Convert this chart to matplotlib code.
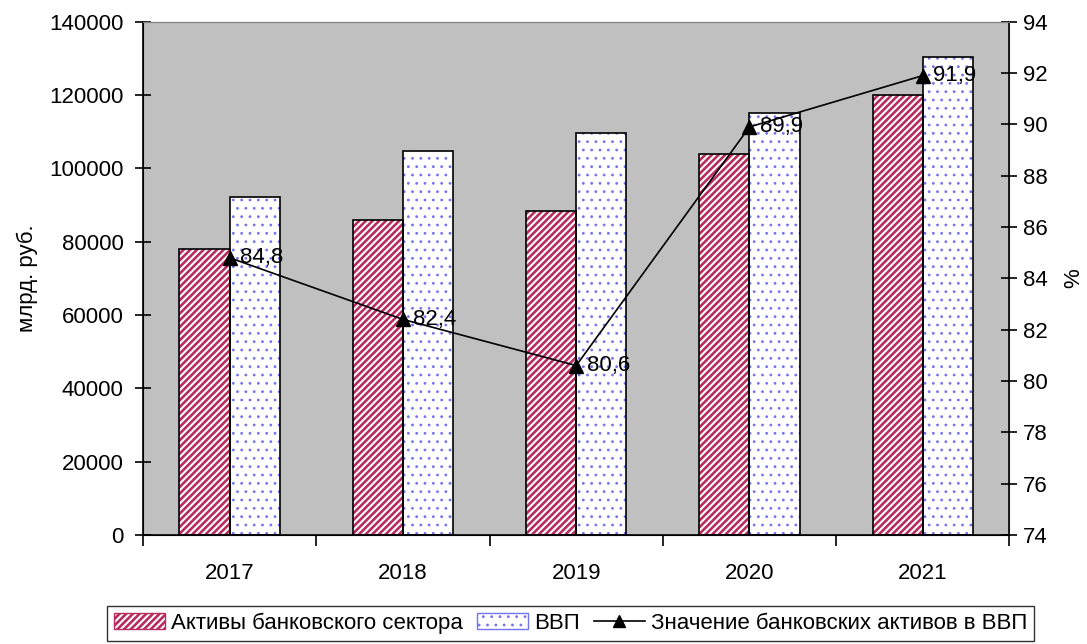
import matplotlib.pyplot as plt
import numpy as np
from matplotlib.patches import Patch
from matplotlib.lines import Line2D

plt.rcParams['font.family'] = ['Liberation Sans', 'DejaVu Sans']

years = ['2017', '2018', '2019', '2020', '2021']
assets = [78000, 86000, 88500, 103800, 120000]
gdp = [92100, 104600, 109600, 115000, 130400]
share = [84.8, 82.4, 80.6, 89.9, 91.9]
share_labels = ['84,8', '82,4', '80,6', '89,9', '91,9']

fs = 16
fig = plt.figure(figsize=(10.87, 6.44), dpi=100)
ax = fig.add_axes([0.1316, 0.1693, 0.797, 0.797])
ax.set_facecolor('#C0C0C0')

x = np.arange(len(years))
w = 0.29
red = '#B82C5E'
blue = '#7474F2'

# hatched fills, then black outlines on top
plt.rcParams['hatch.linewidth'] = 1.9
ax.bar(x - w / 2, assets, w, color='white', edgecolor=red, hatch='/////', linewidth=0, zorder=2)
ax.bar(x - w / 2, assets, w, color='none', edgecolor='black', linewidth=1.2, zorder=3)
plt.rcParams['hatch.linewidth'] = 0.8
ax.bar(x + w / 2, gdp, w, color='white', edgecolor=blue, hatch='..', linewidth=0, zorder=2)
ax.bar(x + w / 2, gdp, w, color='none', edgecolor='black', linewidth=1.2, zorder=3)

ax.set_xlim(-0.5, len(years) - 0.5)
ax.set_ylim(0, 140000)
ax.set_yticks(range(0, 140001, 20000))
ax.set_xticks(x)
ax.set_xticklabels(years)
ax.set_xticks(np.arange(-0.5, len(years), 1), minor=True)
ax.tick_params(axis='x', which='major', length=0, labelsize=fs, pad=20)
ax.tick_params(axis='x', which='minor', length=8, direction='out', width=1.2)
ax.tick_params(axis='y', labelsize=fs, length=12, direction='inout', width=1.2, pad=8)
ax.set_ylabel('млрд. руб.', fontsize=fs)
ax.yaxis.set_label_coords(-0.121, 0.5)

for s in ['top', 'right']:
    ax.spines[s].set_color('#808080')
for s in ['left', 'bottom']:
    ax.spines[s].set_linewidth(1.2)

ax2 = ax.twinx()
ax2.plot(x, share, color='black', marker='^', markersize=10, linewidth=1.2, zorder=5)
for xi, v, t in zip(x, share, share_labels):
    ax2.text(xi + 0.06, v, t, fontsize=fs, va='center', ha='left', zorder=6)
ax2.set_ylim(74, 94)
ax2.set_yticks(range(74, 95, 2))
ax2.tick_params(axis='y', labelsize=fs, length=12, direction='inout', width=1.2, pad=4)
ax2.spines['right'].set_color('black')
ax2.spines['right'].set_linewidth(1.2)
ax2.spines['top'].set_color('#808080')
ax2.set_ylabel('%', fontsize=fs)
ax2.yaxis.set_label_coords(1.062, 0.5)

handles = [
    Patch(facecolor='white', edgecolor=red, hatch='/////', label='Активы банковского сектора'),
    Patch(facecolor='white', edgecolor=blue, hatch='..', label='ВВП'),
    Line2D([0], [0], color='black', marker='^', markersize=9, linewidth=1.2,
           label='Значение банковских активов в ВВП'),
]
leg = fig.legend(handles=handles, loc='upper center', ncol=3,
                 fontsize=fs, frameon=True, fancybox=False, edgecolor='black',
                 handlelength=2.3, handletextpad=0.3, columnspacing=0.6, borderpad=0.3,
                 borderaxespad=0)
leg.set_bbox_to_anchor((0.525, 1 - 606 / 644), transform=fig.transFigure)
leg.get_frame().set_linewidth(1.0)
lp = leg.get_patches()
if hasattr(lp[0], 'set_hatch_linewidth'):
    lp[0].set_hatch_linewidth(1.9)
    lp[1].set_hatch_linewidth(0.8)

fig.savefig('out.png', dpi=100)
